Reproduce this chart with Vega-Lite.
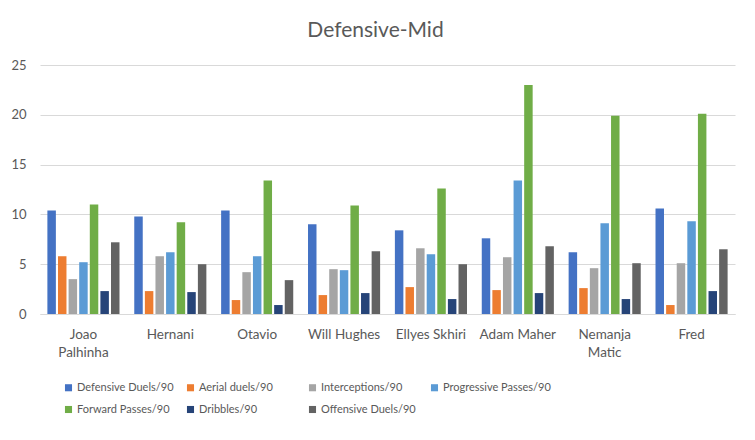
{
  "$schema": "https://vega.github.io/schema/vega-lite/v6.json",
  "autosize": {"type": "none"},
  "width": 695,
  "height": 249,
  "padding": {"left": 40, "top": 65, "right": 20, "bottom": 126},
  "background": "white",
  "title": {"text": "Defensive-Mid", "fontSize": 21, "font": "Lato", "fontWeight": "normal", "color": "#595959", "anchor": "middle", "offset": 18, "dx": -12},
  "data": {"values": [
    {"player": "Joao Palhinha", "metric": "Defensive Duels/90", "value": 10.4},
    {"player": "Joao Palhinha", "metric": "Aerial duels/90", "value": 5.8},
    {"player": "Joao Palhinha", "metric": "Interceptions/90", "value": 3.5},
    {"player": "Joao Palhinha", "metric": "Progressive Passes/90", "value": 5.2},
    {"player": "Joao Palhinha", "metric": "Forward Passes/90", "value": 11.0},
    {"player": "Joao Palhinha", "metric": "Dribbles/90", "value": 2.3},
    {"player": "Joao Palhinha", "metric": "Offensive Duels/90", "value": 7.2},
    {"player": "Hernani", "metric": "Defensive Duels/90", "value": 9.8},
    {"player": "Hernani", "metric": "Aerial duels/90", "value": 2.3},
    {"player": "Hernani", "metric": "Interceptions/90", "value": 5.8},
    {"player": "Hernani", "metric": "Progressive Passes/90", "value": 6.2},
    {"player": "Hernani", "metric": "Forward Passes/90", "value": 9.2},
    {"player": "Hernani", "metric": "Dribbles/90", "value": 2.2},
    {"player": "Hernani", "metric": "Offensive Duels/90", "value": 5.0},
    {"player": "Otavio", "metric": "Defensive Duels/90", "value": 10.4},
    {"player": "Otavio", "metric": "Aerial duels/90", "value": 1.4},
    {"player": "Otavio", "metric": "Interceptions/90", "value": 4.2},
    {"player": "Otavio", "metric": "Progressive Passes/90", "value": 5.8},
    {"player": "Otavio", "metric": "Forward Passes/90", "value": 13.4},
    {"player": "Otavio", "metric": "Dribbles/90", "value": 0.9},
    {"player": "Otavio", "metric": "Offensive Duels/90", "value": 3.4},
    {"player": "Will Hughes", "metric": "Defensive Duels/90", "value": 9.0},
    {"player": "Will Hughes", "metric": "Aerial duels/90", "value": 1.9},
    {"player": "Will Hughes", "metric": "Interceptions/90", "value": 4.5},
    {"player": "Will Hughes", "metric": "Progressive Passes/90", "value": 4.4},
    {"player": "Will Hughes", "metric": "Forward Passes/90", "value": 10.9},
    {"player": "Will Hughes", "metric": "Dribbles/90", "value": 2.1},
    {"player": "Will Hughes", "metric": "Offensive Duels/90", "value": 6.3},
    {"player": "Ellyes Skhiri", "metric": "Defensive Duels/90", "value": 8.4},
    {"player": "Ellyes Skhiri", "metric": "Aerial duels/90", "value": 2.7},
    {"player": "Ellyes Skhiri", "metric": "Interceptions/90", "value": 6.6},
    {"player": "Ellyes Skhiri", "metric": "Progressive Passes/90", "value": 6.0},
    {"player": "Ellyes Skhiri", "metric": "Forward Passes/90", "value": 12.6},
    {"player": "Ellyes Skhiri", "metric": "Dribbles/90", "value": 1.5},
    {"player": "Ellyes Skhiri", "metric": "Offensive Duels/90", "value": 5.0},
    {"player": "Adam Maher", "metric": "Defensive Duels/90", "value": 7.6},
    {"player": "Adam Maher", "metric": "Aerial duels/90", "value": 2.4},
    {"player": "Adam Maher", "metric": "Interceptions/90", "value": 5.7},
    {"player": "Adam Maher", "metric": "Progressive Passes/90", "value": 13.4},
    {"player": "Adam Maher", "metric": "Forward Passes/90", "value": 23.0},
    {"player": "Adam Maher", "metric": "Dribbles/90", "value": 2.1},
    {"player": "Adam Maher", "metric": "Offensive Duels/90", "value": 6.8},
    {"player": "Nemanja Matic", "metric": "Defensive Duels/90", "value": 6.2},
    {"player": "Nemanja Matic", "metric": "Aerial duels/90", "value": 2.6},
    {"player": "Nemanja Matic", "metric": "Interceptions/90", "value": 4.6},
    {"player": "Nemanja Matic", "metric": "Progressive Passes/90", "value": 9.1},
    {"player": "Nemanja Matic", "metric": "Forward Passes/90", "value": 19.9},
    {"player": "Nemanja Matic", "metric": "Dribbles/90", "value": 1.5},
    {"player": "Nemanja Matic", "metric": "Offensive Duels/90", "value": 5.1},
    {"player": "Fred", "metric": "Defensive Duels/90", "value": 10.6},
    {"player": "Fred", "metric": "Aerial duels/90", "value": 0.9},
    {"player": "Fred", "metric": "Interceptions/90", "value": 5.1},
    {"player": "Fred", "metric": "Progressive Passes/90", "value": 9.3},
    {"player": "Fred", "metric": "Forward Passes/90", "value": 20.1},
    {"player": "Fred", "metric": "Dribbles/90", "value": 2.3},
    {"player": "Fred", "metric": "Offensive Duels/90", "value": 6.5}
  ]},
  "mark": {"type": "bar"},
  "encoding": {
    "x": {
      "field": "player", "type": "nominal", "sort": null,
      "scale": {"paddingInner": 0.17, "paddingOuter": 0.085},
      "axis": {
        "title": null, "labelAngle": 0, "labelFont": "Lato", "labelFontSize": 13.5, "labelColor": "#595959",
        "labelPadding": 13, "ticks": false, "domainColor": "#d9d9d9",
        "labelExpr": "datum.value == 'Joao Palhinha' ? ['Joao', 'Palhinha'] : datum.value == 'Nemanja Matic' ? ['Nemanja', 'Matic'] : datum.value",
        "labelLineHeight": 18
      }
    },
    "xOffset": {
      "field": "metric", "type": "nominal", "sort": null,
      "scale": {"paddingInner": 0.2, "paddingOuter": 0}
    },
    "y": {
      "field": "value", "type": "quantitative",
      "scale": {"domain": [0, 25], "nice": false},
      "axis": {
        "title": null, "values": [0, 5, 10, 15, 20, 25], "domain": false, "ticks": false,
        "labelFont": "Lato", "labelFontSize": 13, "labelColor": "#595959", "labelPadding": 14,
        "gridColor": "#d9d9d9", "gridWidth": 1.2
      }
    },
    "color": {
      "field": "metric", "type": "nominal", "sort": null,
      "scale": {
        "domain": ["Defensive Duels/90", "Aerial duels/90", "Interceptions/90", "Progressive Passes/90", "Forward Passes/90", "Dribbles/90", "Offensive Duels/90"],
        "range": ["#4472C4", "#ED7D31", "#A5A5A5", "#5B9BD5", "#70AD47", "#264478", "#636363"]
      },
      "legend": {
        "title": null, "orient": "none", "legendX": 23, "legendY": 317, "columns": 4, "direction": "horizontal",
        "gridAlign": "all", "symbolType": "square", "symbolSize": 50, "symbolStrokeWidth": 0,
        "labelFont": "Lato", "labelFontSize": 11, "labelColor": "#595959", "labelOffset": 3,
        "columnPadding": -12, "rowPadding": 10
      }
    }
  },
  "config": {"view": {"stroke": null}}
}
